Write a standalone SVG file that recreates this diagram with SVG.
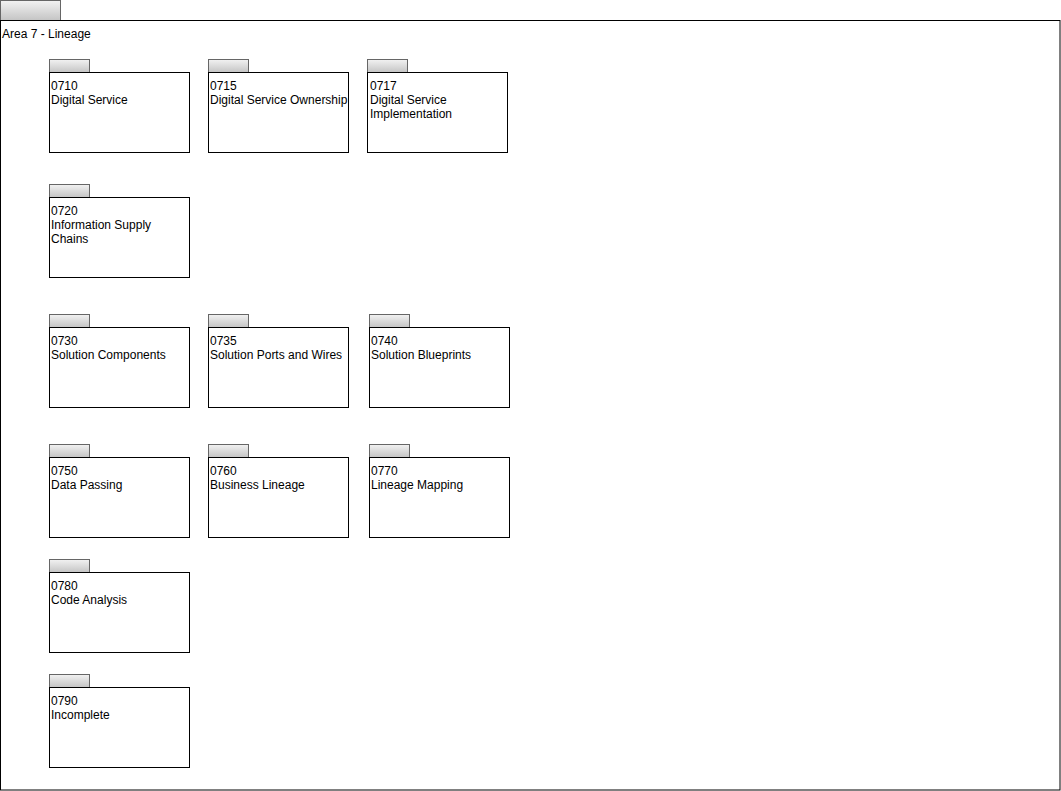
<svg xmlns="http://www.w3.org/2000/svg" width="1061" height="791" viewBox="0 0 1061 791">
<style>
.frame{fill:#ffffff;stroke:#000000;stroke-width:1}
.tab{fill:url(#tabGrad);stroke:#666666;stroke-width:1}
.box{fill:#ffffff;stroke:#000000;stroke-width:1}
text{font-family:"Liberation Sans",Arial,Helvetica,sans-serif;font-size:12px;fill:#000000}
</style>
<defs>
<linearGradient id="tabGrad" x1="0" y1="0" x2="0" y2="1">
<stop offset="0" stop-color="#f2f2f2"/>
<stop offset="1" stop-color="#c4c4c4"/>
</linearGradient>
</defs>
<rect width="1061" height="791" fill="#ffffff"/>
<g id="area7">
<rect class="tab" x="0.5" y="0.5" width="60" height="20"/>
<rect class="frame" x="0.5" y="20.5" width="1059.5" height="769.5"/>
<text x="2" y="38">Area 7 - Lineage</text>
</g>
<g id="connectors"></g>
<g id="n0710">
<rect class="tab" x="49.5" y="59.5" width="40" height="13"/>
<rect class="box" x="49.5" y="72.5" width="140" height="80"/>
<text x="51" y="90">0710</text><text x="51" y="104">Digital Service</text>
</g>
<g id="n0715">
<rect class="tab" x="208.5" y="59.5" width="40" height="13"/>
<rect class="box" x="208.5" y="72.5" width="140" height="80"/>
<text x="210" y="90">0715</text><text x="210" y="104">Digital Service Ownership</text>
</g>
<g id="n0717">
<rect class="tab" x="367.5" y="59.5" width="40" height="13"/>
<rect class="box" x="367.5" y="72.5" width="140" height="80"/>
<text x="370" y="90">0717</text><text x="370" y="104">Digital Service</text><text x="370" y="118">Implementation</text>
</g>
<g id="n0720">
<rect class="tab" x="49.5" y="184.5" width="40" height="13"/>
<rect class="box" x="49.5" y="197.5" width="140" height="80"/>
<text x="51" y="215">0720</text><text x="51" y="229">Information Supply</text><text x="51" y="243">Chains</text>
</g>
<g id="n0730">
<rect class="tab" x="49.5" y="314.5" width="40" height="13"/>
<rect class="box" x="49.5" y="327.5" width="140" height="80"/>
<text x="51" y="345">0730</text><text x="51" y="359">Solution Components</text>
</g>
<g id="n0735">
<rect class="tab" x="208.5" y="314.5" width="40" height="13"/>
<rect class="box" x="208.5" y="327.5" width="140" height="80"/>
<text x="210" y="345">0735</text><text x="210" y="359">Solution Ports and Wires</text>
</g>
<g id="n0740">
<rect class="tab" x="369.5" y="314.5" width="40" height="13"/>
<rect class="box" x="369.5" y="327.5" width="140" height="80"/>
<text x="371" y="345">0740</text><text x="371" y="359">Solution Blueprints</text>
</g>
<g id="n0750">
<rect class="tab" x="49.5" y="444.5" width="40" height="13"/>
<rect class="box" x="49.5" y="457.5" width="140" height="80"/>
<text x="51" y="475">0750</text><text x="51" y="489">Data Passing</text>
</g>
<g id="n0760">
<rect class="tab" x="208.5" y="444.5" width="40" height="13"/>
<rect class="box" x="208.5" y="457.5" width="140" height="80"/>
<text x="210" y="475">0760</text><text x="210" y="489">Business Lineage</text>
</g>
<g id="n0770">
<rect class="tab" x="369.5" y="444.5" width="40" height="13"/>
<rect class="box" x="369.5" y="457.5" width="140" height="80"/>
<text x="371" y="475">0770</text><text x="371" y="489">Lineage Mapping</text>
</g>
<g id="n0780">
<rect class="tab" x="49.5" y="559.5" width="40" height="13"/>
<rect class="box" x="49.5" y="572.5" width="140" height="80"/>
<text x="51" y="590">0780</text><text x="51" y="604">Code Analysis</text>
</g>
<g id="n0790">
<rect class="tab" x="49.5" y="674.5" width="40" height="13"/>
<rect class="box" x="49.5" y="687.5" width="140" height="80"/>
<text x="51" y="705">0790</text><text x="51" y="719">Incomplete</text>
</g>
</svg>
